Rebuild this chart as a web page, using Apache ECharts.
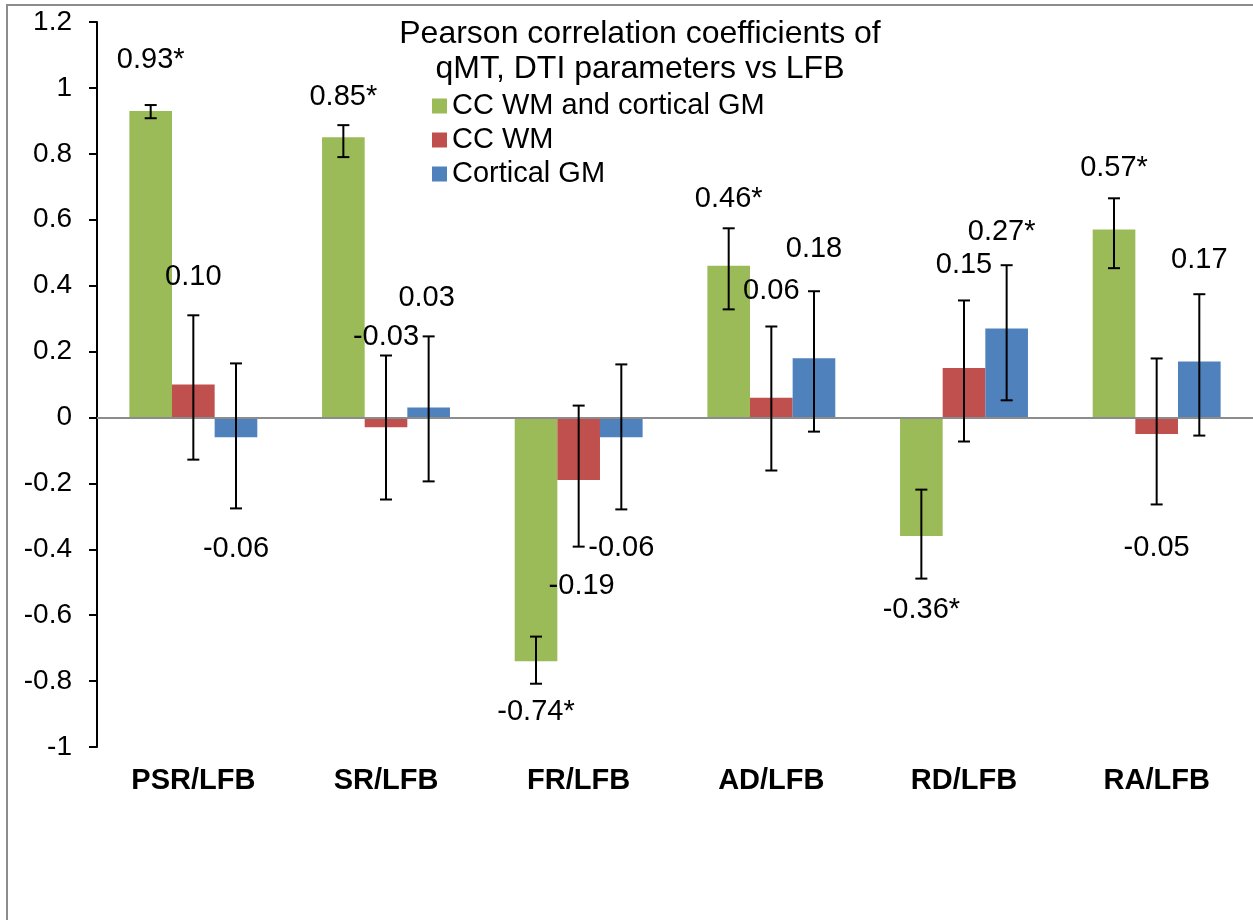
<!DOCTYPE html>
<html>
<head>
<meta charset="utf-8">
<script src="https://cdn.jsdelivr.net/npm/echarts@6/dist/echarts.min.js"></script>
<style>
html,body{margin:0;padding:0;background:#fff;}
#chart{width:1253px;height:920px;}
</style>
</head>
<body>
<div id="chart"></div>
<script>
// ---------- DATA ----------
const categories = ['PSR/LFB', 'SR/LFB', 'FR/LFB', 'AD/LFB', 'RD/LFB', 'RA/LFB'];
const seriesNames = ['CC WM and cortical GM', 'CC WM', 'Cortical GM'];

const combinedValues = [0.93, 0.85, -0.74, 0.46, -0.36, 0.57];
const ccwmValues = [0.10, -0.03, -0.19, 0.06, 0.15, -0.05];
const corticalValues = [-0.06, 0.03, -0.06, 0.18, 0.27, 0.17];

const combinedLabels = ['0.93*', '0.85*', '-0.74*', '0.46*', '-0.36*', '0.57*'];
const ccwmLabels = ['0.10', '-0.03', '-0.19', '0.06', '0.15', '-0.05'];
const corticalLabels = ['-0.06', '0.03', '-0.06', '0.18', '0.27*', '0.17'];

// error bar bounds (lower, upper)
const combinedErrLow = [0.908, 0.790, -0.808, 0.328, -0.489, 0.453];
const combinedErrHigh = [0.948, 0.887, -0.665, 0.574, -0.219, 0.665];
const ccwmErrLow = [-0.128, -0.249, -0.392, -0.161, -0.073, -0.264];
const ccwmErrHigh = [0.310, 0.188, 0.036, 0.276, 0.355, 0.179];
const corticalErrLow = [-0.276, -0.194, -0.279, -0.043, 0.052, -0.055];
const corticalErrHigh = [0.164, 0.246, 0.161, 0.383, 0.462, 0.374];

const yTickMin = -1, yTickMax = 1.2, yTickStep = 0.2;

// ---------- STYLE / LAYOUT ----------
const colors = ['#9BBB59', '#C0504D', '#4F81BD'];
const FONT = '"Liberation Sans", Arial, sans-serif';
const GAP = 0.336;
// data label pixel offsets from bar end [dx, dy]
const labelOffsets = [
  [[0, -51], [0, -40], [0, 51], [0, -67], [0, 74], [0, -62]],
  [[0, -108], [0, -90], [3, 106], [0, -107], [0, -103], [0, 114]],
  [[0, 112], [-2, -110], [0, 111], [0, -109], [-5, -96], [0, -101]]
];

const groups = [
  {values: combinedValues, labels: combinedLabels, lo: combinedErrLow, hi: combinedErrHigh},
  {values: ccwmValues, labels: ccwmLabels, lo: ccwmErrLow, hi: ccwmErrHigh},
  {values: corticalValues, labels: corticalLabels, lo: corticalErrLow, hi: corticalErrHigh}
];

const series = [];
groups.forEach((g, gi) => {
  const s = {
    name: seriesNames[gi],
    type: 'bar',
    data: g.values,
    barGap: '0%',
    barCategoryGap: (GAP * 100) + '%',
    itemStyle: {color: colors[gi]},
    z: 2
  };
  if (gi === 0) {
    s.markLine = {
      silent: true,
      symbol: 'none',
      label: {show: false},
      lineStyle: {color: '#8c8c8c', width: 2, type: 'solid'},
      data: [{yAxis: 0}],
      z: 3
    };
  }
  series.push(s);
});

groups.forEach((g, gi) => {
  series.push({
    type: 'custom',
    name: 'err' + gi,
    z: 5,
    data: g.values.map((v, i) => [i, g.lo[i], g.hi[i], v]),
    renderItem: function (params, api) {
      const idx = api.value(0);
      const lo = api.value(1), hi = api.value(2), v = api.value(3);
      const band = api.size([1, 0])[0];
      const bw = band * (1 - GAP) / 3;
      const dx = (gi - 1) * bw;
      const pv = api.coord([idx, v]);
      const pl = api.coord([idx, lo]);
      const ph = api.coord([idx, hi]);
      const x = pv[0] + dx;
      const cap = 6;
      const ls = {stroke: '#000', lineWidth: 2};
      const off = labelOffsets[gi][params.dataIndex];
      return {
        type: 'group',
        children: [
          {type: 'line', shape: {x1: x, y1: pl[1], x2: x, y2: ph[1]}, style: ls},
          {type: 'line', shape: {x1: x - cap, y1: pl[1], x2: x + cap, y2: pl[1]}, style: ls},
          {type: 'line', shape: {x1: x - cap, y1: ph[1], x2: x + cap, y2: ph[1]}, style: ls},
          {type: 'text', x: x + off[0], y: pv[1] + off[1],
            style: {text: g.labels[params.dataIndex], fill: '#000', font: '29px ' + FONT,
              textAlign: 'center', textVerticalAlign: 'middle'}}
        ]
      };
    }
  });
});

const chart = echarts.init(document.getElementById('chart'), null, {renderer: 'canvas'});
chart.setOption({
  animation: false,
  backgroundColor: '#fff',
  textStyle: {fontFamily: FONT},
  grid: {left: 97, right: 0, top: 22, bottom: 920 - 747, containLabel: false},
  legend: {
    data: seriesNames,
    orient: 'vertical',
    left: 432,
    top: 91,
    itemWidth: 15,
    itemHeight: 15,
    itemGap: 4,
    icon: 'rect',
    padding: 0,
    textStyle: {fontSize: 29, lineHeight: 30, color: '#000', fontFamily: FONT}
  },
  graphic: [
    {type: 'rect', shape: {x: 7, y: 5, width: 1400, height: 1100},
      style: {fill: 'none', stroke: '#8c8c8c', lineWidth: 2}, silent: true, z: 0},
    {type: 'text', x: 640, y: 17,
      style: {text: 'Pearson correlation coefficients of\nqMT, DTI parameters vs LFB',
        font: '32px ' + FONT, fill: '#000', textAlign: 'center', lineHeight: 35}, z: 10}
  ],
  xAxis: {
    type: 'category',
    data: categories,
    axisLine: {show: false, onZero: false},
    axisTick: {show: false},
    axisLabel: {fontSize: 29, fontWeight: 'bold', color: '#000', margin: 19, fontFamily: FONT},
    splitLine: {show: false}
  },
  yAxis: {
    type: 'value',
    min: yTickMin,
    max: yTickMax,
    interval: yTickStep,
    axisLine: {show: true, lineStyle: {color: '#000', width: 2}},
    axisTick: {show: true, length: 8, lineStyle: {color: '#000', width: 2}},
    axisLabel: {fontSize: 28, color: '#000', margin: 25, fontFamily: FONT,
      formatter: v => String(Math.round(v * 10) / 10)},
    splitLine: {show: false}
  },
  series: series
});
</script>
</body>
</html>
